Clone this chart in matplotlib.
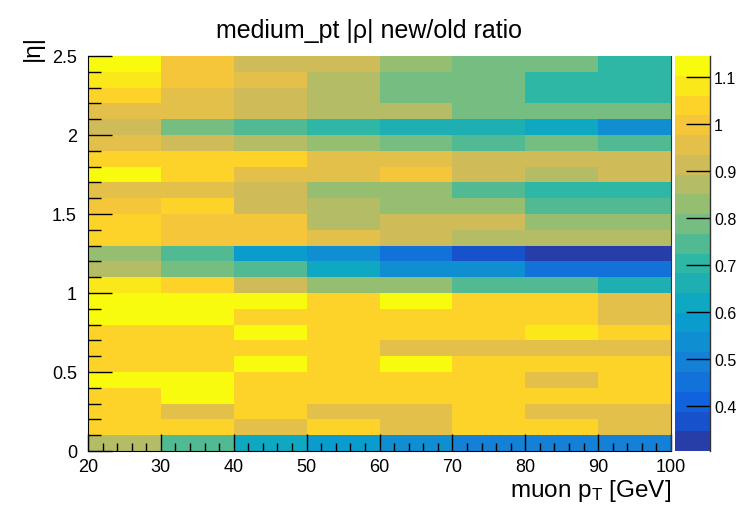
import numpy as np
import matplotlib
matplotlib.use('Agg')
import matplotlib.pyplot as plt
from matplotlib.colors import LinearSegmentedColormap, ListedColormap, Normalize
from matplotlib.ticker import FormatStrFormatter

plt.rcParams['font.family'] = 'Liberation Sans'
plt.rcParams['mathtext.fontset'] = 'custom'
plt.rcParams['mathtext.rm'] = 'Liberation Sans'
plt.rcParams['mathtext.it'] = 'Liberation Sans'

#------------------------------------------------------------------
# binning and ratio values (rows = |eta| bins from 0 upward)
#------------------------------------------------------------------
pt_edges = [20, 30, 40, 50, 60, 70, 80, 90, 100]
eta_edges = np.linspace(0, 2.5, 26)

ratio = np.array([
    [0.87, 0.75, 0.62, 0.58, 0.54, 0.49, 0.49, 0.49],   # 0.0-0.1
    [1.04, 1.04, 0.96, 1.04, 0.96, 1.04, 1.04, 0.96],
    [1.04, 0.96, 1.04, 0.96, 0.96, 1.04, 0.96, 0.96],
    [1.04, 1.12, 1.04, 1.04, 1.04, 1.04, 1.04, 1.04],
    [1.12, 1.12, 1.04, 1.04, 1.04, 1.04, 0.96, 1.04],
    [1.04, 1.04, 1.12, 1.04, 1.12, 1.04, 1.04, 1.04],   # 0.5-0.6
    [1.04, 1.04, 1.04, 1.04, 0.96, 0.96, 0.96, 0.96],
    [1.04, 1.04, 1.12, 1.04, 1.04, 1.04, 1.08, 1.04],
    [1.12, 1.12, 1.04, 1.04, 1.04, 1.04, 1.04, 0.96],
    [1.12, 1.12, 1.12, 1.04, 1.12, 1.04, 1.04, 0.96],
    [1.08, 1.04, 0.91, 0.83, 0.83, 0.75, 0.75, 0.66],   # 1.0-1.1
    [0.87, 0.79, 0.75, 0.62, 0.54, 0.54, 0.45, 0.45],
    [0.83, 0.75, 0.58, 0.54, 0.45, 0.37, 0.304, 0.32],
    [1.04, 1.00, 1.00, 0.96, 0.91, 0.87, 0.87, 0.87],
    [1.04, 1.00, 1.00, 0.87, 0.91, 0.91, 0.83, 0.83],
    [1.00, 1.04, 0.91, 0.87, 0.83, 0.83, 0.75, 0.75],   # 1.5-1.6
    [0.96, 0.96, 0.91, 0.83, 0.83, 0.75, 0.70, 0.70],
    [1.12, 1.04, 0.96, 0.96, 1.00, 0.91, 0.87, 0.91],
    [1.04, 1.04, 1.04, 0.96, 0.96, 0.91, 0.91, 0.91],
    [0.96, 0.91, 0.87, 0.83, 0.79, 0.75, 0.79, 0.75],
    [0.91, 0.79, 0.75, 0.70, 0.66, 0.66, 0.62, 0.54],   # 2.0-2.1
    [0.96, 0.96, 0.91, 0.87, 0.87, 0.79, 0.79, 0.79],
    [1.04, 0.96, 0.91, 0.87, 0.79, 0.79, 0.70, 0.70],
    [1.08, 1.00, 0.96, 0.87, 0.79, 0.79, 0.70, 0.70],
    [1.144, 1.00, 0.91, 0.91, 0.83, 0.79, 0.79, 0.70],
])

#------------------------------------------------------------------
# ROOT "bird" palette, 20 contour levels
#------------------------------------------------------------------
stops = [0.0, 0.125, 0.25, 0.375, 0.5, 0.625, 0.75, 0.875, 1.0]
red = [0.2082, 0.0592, 0.0780, 0.0232, 0.1802, 0.5301, 0.8186, 0.9956, 0.9764]
green = [0.1664, 0.3599, 0.5041, 0.6419, 0.7178, 0.7492, 0.7328, 0.7862, 0.9832]
blue = [0.5293, 0.8684, 0.8385, 0.7914, 0.6425, 0.4662, 0.3499, 0.1968, 0.0539]
bird = LinearSegmentedColormap.from_list('bird', list(zip(stops, zip(red, green, blue))))
ncont = 20
cmap = ListedColormap([bird(min((i + 0.99) / ncont, 1.0)) for i in range(ncont)])
norm = Normalize(vmin=ratio.min(), vmax=ratio.max())

fig = plt.figure(figsize=(7.38, 5.10), dpi=100)
ax = fig.add_axes([88/738, 1 - 452/510, 583/738, 395/510])
mesh = ax.pcolormesh(pt_edges, eta_edges, ratio, cmap=cmap, norm=norm,
                     edgecolors='face', linewidth=0)

ax.set_xlim(20, 100)
ax.set_ylim(0, 2.5)
ax.set_xticks(range(20, 101, 10))
ax.set_xticks(np.arange(20, 101, 2), minor=True)
ax.set_yticks(np.arange(0, 2.51, 0.5))
ax.set_yticks(np.arange(0, 2.51, 0.1), minor=True)
ax.yaxis.set_major_formatter(FormatStrFormatter('%g'))
ax.tick_params(which='both', direction='in', top=False, right=False, width=1,
               labelsize=13)
ax.tick_params(axis='x', which='major', length=12, pad=5)
ax.tick_params(axis='x', which='minor', length=6)
ax.tick_params(axis='y', which='major', length=17, pad=8)
ax.tick_params(axis='y', which='minor', length=9)
ax.spines['top'].set_visible(False)
ax.spines['right'].set_color('#333333')

fig.text(0.5, 1 - 38/510, 'medium_pt |ρ| new/old ratio', ha='center',
         va='baseline', fontsize=18)
fig.text(671/738, 1 - 497/510, 'muon p$_{T}$ [GeV]', ha='right', va='baseline',
         fontsize=17.5)
fig.text(22/738, 1 - 35/510, '|η|', rotation=90, ha='left', va='top', fontsize=17.5)

# palette axis on the right
cax = fig.add_axes([675/738, 1 - 452/510, 35/738, 395/510])
cb = fig.colorbar(mesh, cax=cax)
cb.outline.set_visible(False)
cb.set_ticks([0.4, 0.5, 0.6, 0.7, 0.8, 0.9, 1.0, 1.1])
cb.ax.yaxis.set_major_formatter(FormatStrFormatter('%g'))
cb.ax.tick_params(direction='in', length=17, width=1, labelsize=11.5, pad=3)
cb.ax.minorticks_off()
cax.plot([1, 1], [0, 1], transform=cax.transAxes, color='#333333', lw=1,
         clip_on=False)

fig.savefig('out.png', dpi=100)
